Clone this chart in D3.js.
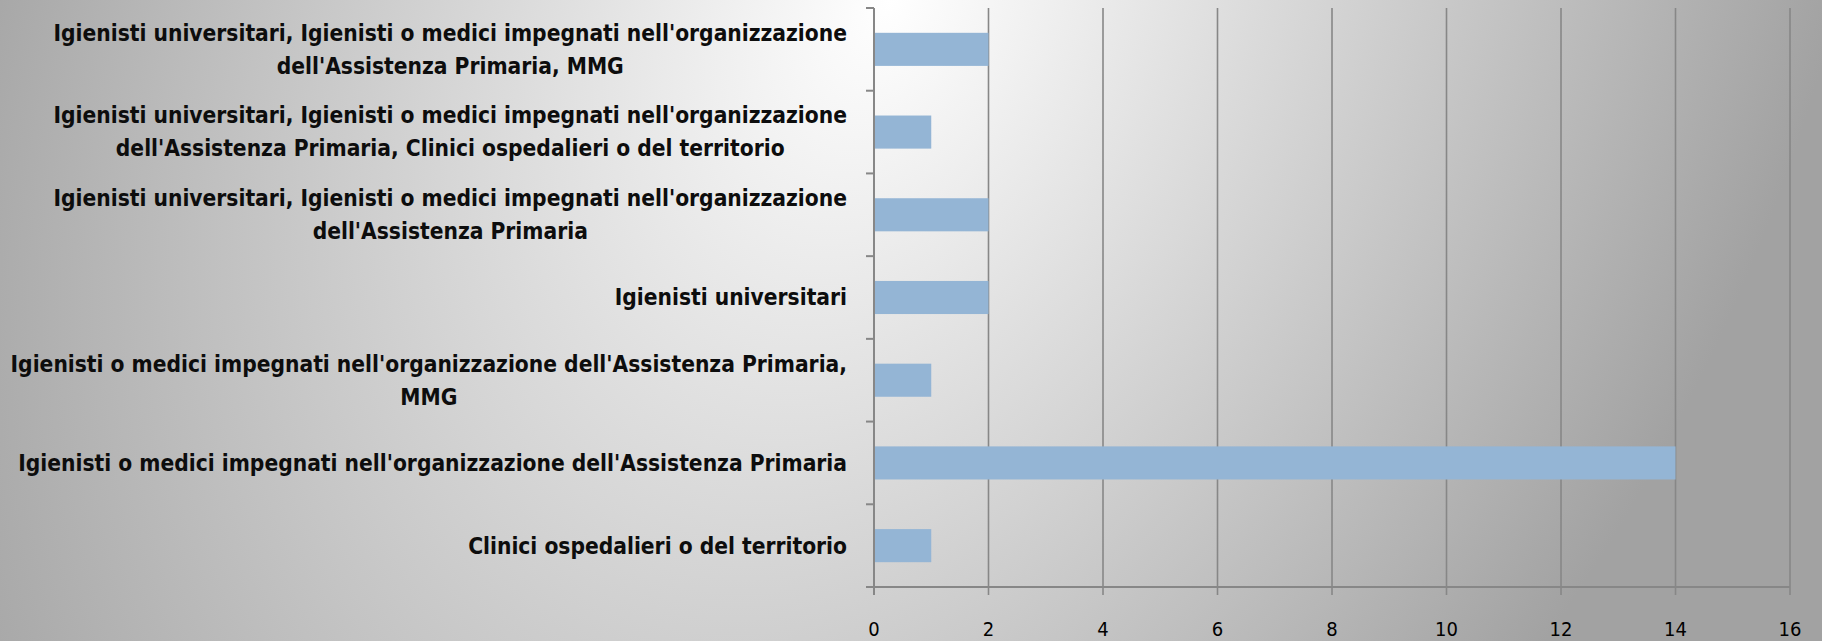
<!DOCTYPE html>
<html>
<head>
<meta charset="utf-8">
<script src="https://cdn.jsdelivr.net/npm/d3@7"></script>
<style>
  html, body { margin: 0; padding: 0; }
  body { width: 1822px; height: 641px; overflow: hidden; }
  text { font-family: "Liberation Sans Narrow", "DejaVu Sans Condensed", "Noto Sans", sans-serif; }
</style>
</head>
<body>
<div id="chart"></div>
<script>
// categories top to bottom, "\n" marks the line break of the label
const categories = [
  "Igienisti universitari, Igienisti o medici impegnati nell'organizzazione\ndell'Assistenza Primaria, MMG",
  "Igienisti universitari, Igienisti o medici impegnati nell'organizzazione\ndell'Assistenza Primaria, Clinici ospedalieri o del territorio",
  "Igienisti universitari, Igienisti o medici impegnati nell'organizzazione\ndell'Assistenza Primaria",
  "Igienisti universitari",
  "Igienisti o medici impegnati nell'organizzazione dell'Assistenza Primaria,\nMMG",
  "Igienisti o medici impegnati nell'organizzazione dell'Assistenza Primaria",
  "Clinici ospedalieri o del territorio"
]
const values = [2, 1, 2, 2, 1, 14, 1]
const xTicks = [0, 2, 4, 6, 8, 10, 12, 14, 16]

const width = 1822,
    height = 641

// plot area edges
const plotLeft = 874, plotRight = 1790, plotTop = 8, plotBottom = 587
const gridColor = "#878787"

const svg = d3.select("#chart")
  .append("svg")
    .attr("width", width)
    .attr("height", height)

// background: light band near the top centre, grey towards the edges
const defs = svg.append("defs")
const grad = defs.append("radialGradient")
    .attr("id", "bg")
    .attr("gradientUnits", "userSpaceOnUse")
    .attr("cx", 0).attr("cy", 0).attr("r", 1)
    .attr("gradientTransform", "translate(890,0) skewX(-14) scale(950,1250)")
grad.append("stop").attr("offset", "0%").attr("stop-color", "#ffffff")
grad.append("stop").attr("offset", "100%").attr("stop-color", "#a2a2a2")

svg.append("rect")
    .attr("width", width)
    .attr("height", height)
    .attr("fill", "url(#bg)")

const x = d3.scaleLinear()
    .domain([0, 16])
    .range([plotLeft, plotRight])

const y = d3.scaleBand()
    .domain(categories)
    .range([plotTop, plotBottom])
    .paddingInner(0.6)
    .paddingOuter(0.3)

// vertical gridlines (with their little tick below the axis)
svg.append("g")
  .selectAll("line")
  .data(xTicks.filter(d => d > 0))
  .join("line")
    .attr("x1", d => x(d)).attr("x2", d => x(d))
    .attr("y1", plotTop).attr("y2", plotBottom + 8)
    .attr("stroke", gridColor)
    .attr("stroke-width", 1.6)

// bars
svg.append("g")
  .selectAll("rect")
  .data(values)
  .join("rect")
    .attr("x", x(0))
    .attr("y", (d, i) => y(categories[i]))
    .attr("width", d => x(d) - x(0))
    .attr("height", y.bandwidth())
    .attr("fill", "#94b5d5")

// y axis line + ticks on band boundaries
const step = y.step()
const yEdges = d3.range(categories.length + 1).map(i => plotTop + i * step)
svg.append("line")
    .attr("x1", plotLeft).attr("x2", plotLeft)
    .attr("y1", plotTop).attr("y2", plotBottom + 8)
    .attr("stroke", gridColor).attr("stroke-width", 2)
svg.append("g")
  .selectAll("line")
  .data(yEdges)
  .join("line")
    .attr("x1", plotLeft - 8).attr("x2", plotLeft)
    .attr("y1", d => d).attr("y2", d => d)
    .attr("stroke", gridColor).attr("stroke-width", 2)

// x axis baseline
svg.append("line")
    .attr("x1", plotLeft - 8).attr("x2", plotRight)
    .attr("y1", plotBottom).attr("y2", plotBottom)
    .attr("stroke", gridColor).attr("stroke-width", 2)

// x tick labels, sitting right at the bottom edge like the original
svg.append("g")
  .selectAll("text")
  .data(xTicks)
  .join("text")
    .attr("x", d => x(d))
    .attr("y", 636)
    .attr("text-anchor", "middle")
    .style("font-size", "20px")
    .style("fill", "#000")
    .text(d => d)

// category labels: block right aligned at 847, lines centred inside the block
const labelRight = 847
const lineGap = 33

// scale the font so the longest line is about as wide as in the picture
const probe = svg.append("text")
    .style("font-size", "24px")
    .style("font-weight", "bold")
    .text("Igienisti o medici impegnati nell'organizzazione dell'Assistenza Primaria,")
const probeW = probe.node().getComputedTextLength()
probe.remove()
const labelSize = 24 * 837 / probeW

const labels = svg.append("g")
categories.forEach(cat => {
  const lines = cat.split("\n")
  const t = labels.append("text")
      .style("font-size", labelSize + "px")
      .style("font-weight", "bold")
      .style("fill", "#0d0d0d")
      .attr("text-anchor", "middle")
  lines.forEach(l => t.append("tspan").text(l))
  // widest line decides the block centre
  const widths = t.selectAll("tspan").nodes().map(n => n.getComputedTextLength())
  const cx = labelRight - d3.max(widths) / 2
  const cy = y(cat) + y.bandwidth() / 2
  t.selectAll("tspan")
      .attr("x", cx)
      .attr("y", (d, i) => cy + (i - (lines.length - 1) / 2) * lineGap)
      .attr("dy", "0.35em")
})
</script>
</body>
</html>
